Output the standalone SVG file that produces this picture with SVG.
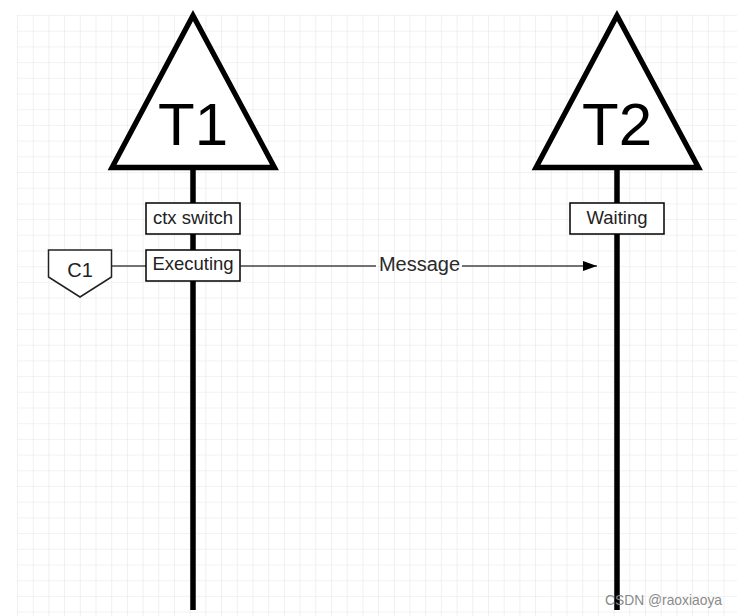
<svg xmlns="http://www.w3.org/2000/svg" width="737" height="616" viewBox="0 0 737 616">
  <defs>
    <pattern id="grid" x="17" y="15" width="15.7" height="15.7" patternUnits="userSpaceOnUse">
      <path d="M 0 0 L 15.7 0 M 0 0 L 0 15.7" fill="none" stroke="#e6e6e6" stroke-width="1.2"/>
    </pattern>
    <marker id="arrow" viewBox="0 0 14 10" refX="14" refY="5" markerWidth="14" markerHeight="10" markerUnits="userSpaceOnUse" orient="auto">
      <path d="M 0 0 L 14 5 L 0 10 Z" fill="#000"/>
    </marker>
    <style>
      .tri { fill: #fff; stroke: #000; stroke-width: 5.3; stroke-linejoin: miter; }
      .life { stroke: #000; stroke-width: 5.5; fill: none; }
      .box { fill: #fff; stroke: #000; stroke-width: 1.5; }
      .big { font-family: "Liberation Sans", Arial, sans-serif; font-size: 60px; fill: #000; text-anchor: middle; }
      .lbl { font-family: "Liberation Sans", Arial, sans-serif; font-size: 18.5px; fill: #222; text-anchor: middle; }
      .conn { stroke: #444; stroke-width: 1.5; fill: none; }
    </style>
  </defs>
  <rect x="0" y="0" width="737" height="616" fill="#fff"/>
  <rect x="17" y="15" width="720" height="601" fill="url(#grid)"/>

  <g id="lifelines">
    <line class="life" x1="193" y1="166" x2="193" y2="610"/>
    <line class="life" x1="617" y1="166" x2="617" y2="610"/>
  </g>

  <g id="T1">
    <polygon class="tri" points="193,15.5 112,167.5 274.5,167.5"/>
    <text class="big" x="193" y="145">T1</text>
  </g>
  <g id="T2">
    <polygon class="tri" points="617,15.5 536,167.5 698.5,167.5"/>
    <text class="big" x="617" y="145">T2</text>
  </g>

  <g id="connectors">
    <line class="conn" x1="111.5" y1="266" x2="146" y2="266"/>
    <line class="conn" x1="240.5" y1="266" x2="376" y2="266"/>
    <line class="conn" x1="462" y1="266" x2="597" y2="266" marker-end="url(#arrow)"/>
    <text x="419.5" y="271" font-family="'Liberation Sans', Arial, sans-serif" font-size="20" fill="#2a2a2a" text-anchor="middle">Message</text>
  </g>

  <g id="ctx-switch">
    <rect class="box" x="146" y="203" width="94" height="31"/>
    <text class="lbl" x="193" y="223.5">ctx switch</text>
  </g>
  <g id="executing">
    <rect class="box" x="146" y="250" width="94" height="31"/>
    <text class="lbl" x="193" y="270">Executing</text>
  </g>
  <g id="waiting">
    <rect class="box" x="570" y="203" width="94" height="31"/>
    <text class="lbl" x="617" y="223.5">Waiting</text>
  </g>
  <g id="C1">
    <polygon points="48.5,250 111.5,250 111.5,277 80,297 48.5,277" fill="#fff" stroke="#222" stroke-width="1.5"/>
    <text x="80" y="277" font-family="'Liberation Sans', Arial, sans-serif" font-size="20" fill="#222" text-anchor="middle">C1</text>
  </g>

  <text x="605" y="604.5" font-family="'Liberation Sans', Arial, sans-serif" font-size="15" fill="#8a8a8a" textLength="117" lengthAdjust="spacingAndGlyphs">CSDN @raoxiaoya</text>
</svg>
